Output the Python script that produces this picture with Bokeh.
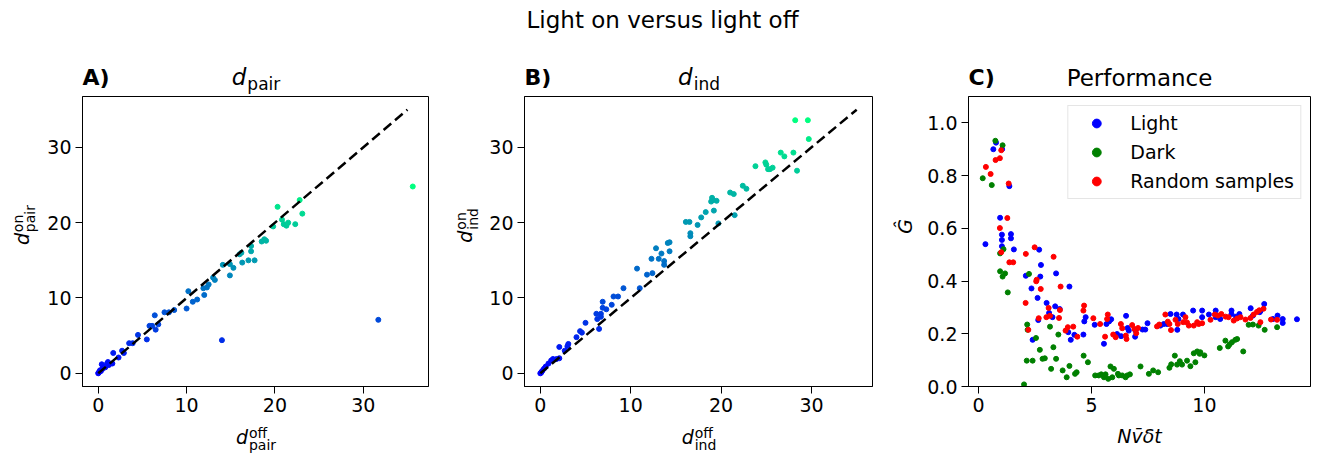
import math
from bokeh.plotting import figure
from bokeh.models import (Legend, LegendItem, FixedTicker, PrintfTickFormatter,
                          ColumnDataSource, Range1d)
from bokeh.layouts import row, column
from bokeh.transform import linear_cmap
from bokeh.core.properties import value
from bokeh.embed import file_html
from bokeh.resources import INLINE

# ---------------- data ----------------
A_off = [35.6, 31.7, 14.0, 20.3, 22.8, 23.1, 20.8, 21.0, 21.3, 21.5, 22.3, 19.8, 19.0, 18.5, 18.8,
         17.3, 17.3, 17.0, 17.7, 16.3, 16.0, 16.2, 14.9, 15.3, 14.1, 14.9, 13.2, 13.0, 12.5, 12.3,
         11.9, 12.0, 10.2, 11.2, 10.7, 10.0, 8.6, 8.0, 7.5, 6.8, 6.4, 5.8, 6.1, 6.5, 5.5, 4.5, 3.9,
         3.5, 2.7, 2.9, 1.7, 1.6, 2.3, 1.1, 0.6, 0.4, 0.2, 0.0, 0.05, 0.3, 0.8, 1.2, 0.15, 0.5, 1.0]
A_on = [24.8, 7.1, 4.4, 22.1, 23.0, 21.2, 20.4, 19.8, 19.6, 20.0, 19.8, 19.5, 17.6, 17.5, 17.8,
        16.9, 16.2, 15.0, 15.0, 14.7, 15.8, 16.0, 14.5, 14.0, 14.4, 13.0, 12.4, 12.7, 11.8, 11.4,
        11.3, 10.4, 10.9, 9.8, 9.5, 8.6, 8.4, 8.1, 8.1, 6.5, 7.7, 6.3, 6.3, 5.8, 4.5, 5.1, 4.0,
        4.0, 3.0, 2.7, 2.7, 1.3, 2.1, 1.5, 0.9, 1.2, 0.4, 0.0, 0.1, 0.3, 0.8, 1.1, 0.2, 0.6, 1.3]

B_off = [28.2, 29.6, 29.7, 26.6, 27.0, 28.0, 28.4, 23.8, 24.9, 25.0, 25.2, 25.7, 25.4, 22.4, 22.8,
         21.0, 21.4, 21.5, 19.0, 19.1, 19.5, 18.9, 19.2, 18.3, 17.8, 17.4, 19.7, 16.1, 16.5, 16.6,
         16.6, 14.1, 14.3, 14.3, 12.8, 13.4, 12.3, 13.1, 13.7, 13.7, 10.7, 11.8, 12.4, 11.0, 9.2,
         8.1, 8.6, 7.9, 6.9, 7.3, 6.9, 6.2, 6.7, 6.7, 6.3, 6.5, 5.0, 4.4, 4.6, 4.0, 3.1, 3.0, 2.7,
         2.1, 2.1, 1.8, 1.4, 1.2, 0.9, 0.6, 0.4, 0.2, 0.1, 0.0]
B_on = [33.6, 33.6, 31.1, 29.3, 28.8, 29.3, 26.9, 27.5, 28.0, 27.7, 27.1, 27.3, 27.1, 24.9, 24.5,
        24.0, 23.8, 21.0, 23.3, 23.0, 22.9, 22.8, 21.6, 21.4, 20.7, 19.7, 19.9, 20.1, 20.1, 18.6,
        18.2, 17.3, 17.4, 16.2, 16.6, 15.9, 15.2, 15.2, 14.9, 14.4, 13.9, 13.1, 13.3, 11.3, 11.3,
        10.2, 10.2, 9.1, 9.5, 8.5, 8.7, 7.9, 7.9, 7.5, 7.2, 5.9, 6.7, 5.6, 5.4, 4.8, 3.9, 3.6, 3.0,
        3.5, 2.0, 1.9, 1.9, 1.7, 1.3, 0.9, 0.6, 0.3, 0.1, 0.0]

diag_x = [0, 35]
diag_y = [0, 35]

light_x = [0.3, 0.65, 0.77, 1.04, 0.95, 1.03, 1.03, 1.03, 1.36, 1.43, 1.43, 1.56, 2.09, 2.34, 2.61,
           2.68, 2.76, 2.73, 2.39, 2.64, 3.01, 3.12, 3.43, 3.39, 3.27, 3.59, 4.02, 3.97, 4.08, 4.24,
           4.64, 4.74, 4.68, 5.14, 5.55, 5.66, 5.78, 5.87, 6.13, 6.31, 6.53, 6.6, 6.65, 6.93, 6.95,
           7.26, 7.38, 7.48, 8.05, 8.2, 8.35, 8.5, 8.8, 8.77, 9.05, 8.85, 9.5, 9.9, 9.9, 10.2, 10.5,
           10.5, 10.7, 11.2, 11.2, 11.4, 11.55, 12.05, 12.15, 12.45, 12.65, 12.48, 13.24, 13.47,
           13.47, 13.04, 14.1]
light_y = [0.54, 0.90, 0.925, 0.90, 0.64, 0.576, 0.556, 0.532, 0.76, 0.578, 0.562, 0.52, 0.42,
           0.372, 0.336, 0.519, 0.461, 0.417, 0.177, 0.252, 0.317, 0.279, 0.429, 0.304, 0.263,
           0.294, 0.379, 0.206, 0.177, 0.196, 0.197, 0.263, 0.247, 0.234, 0.162, 0.237, 0.247,
           0.255, 0.199, 0.191, 0.268, 0.222, 0.212, 0.189, 0.212, 0.216, 0.216, 0.240, 0.231,
           0.237, 0.237, 0.275, 0.215, 0.273, 0.273, 0.256, 0.288, 0.288, 0.263, 0.273, 0.288,
           0.263, 0.256, 0.288, 0.275, 0.265, 0.275, 0.297, 0.269, 0.282, 0.313, 0.286, 0.269,
           0.256, 0.241, 0.256, 0.255]

dark_x = [0.18, 0.58, 0.74, 1.06, 0.95, 1.1, 0.95, 1.06, 1.17, 1.29, 2.23, 2.01, 2.15, 2.17, 2.13,
          2.39, 2.54, 2.71, 2.83, 2.93, 3.16, 3.21, 3.31, 3.43, 3.53, 3.72, 3.9, 4.02, 4.27, 4.34,
          4.65, 4.84, 5.16, 5.32, 5.43, 5.55, 5.62, 5.84, 5.99, 5.74, 5.92, 6.17, 6.21, 6.36, 6.51,
          6.58, 6.7, 7.17, 7.54, 7.73, 7.95, 8.45, 8.53, 8.69, 8.79, 8.91, 9.01, 9.23, 9.38, 9.53,
          9.6, 9.68, 9.82, 9.79, 10.0, 10.68, 10.93, 11.05, 11.12, 11.22, 11.37, 11.45, 11.72,
          11.96, 12.15, 12.4, 12.67, 13.22]
dark_y = [0.79, 0.764, 0.932, 0.915, 0.505, 0.521, 0.437, 0.417, 0.429, 0.357, 0.427, 0.008, 0.235,
          0.215, 0.098, 0.098, 0.184, 0.139, 0.105, 0.107, 0.227, 0.067, 0.149, 0.105, 0.197,
          0.061, 0.035, 0.078, 0.048, 0.054, 0.117, 0.092, 0.042, 0.042, 0.046, 0.035, 0.046,
          0.076, 0.067, 0.029, 0.035, 0.048, 0.042, 0.042, 0.035, 0.042, 0.046, 0.076, 0.048,
          0.061, 0.054, 0.071, 0.084, 0.117, 0.083, 0.096, 0.083, 0.098, 0.077, 0.126, 0.092,
          0.133, 0.13, 0.124, 0.118, 0.146, 0.174, 0.152, 0.16, 0.168, 0.177, 0.18, 0.133, 0.234,
          0.235, 0.231, 0.215, 0.225]

random_x = [0.32, 0.53, 0.75, 0.94, 1.0, 0.94, 1.0, 1.27, 1.33, 1.36, 1.53, 2.09, 2.08, 2.2, 2.48,
            2.57, 2.55, 2.75, 2.66, 3.1, 3.0, 3.16, 3.32, 3.56, 3.63, 3.6, 3.85, 3.95, 4.19, 4.37,
            4.67, 4.64, 5.08, 5.38, 5.6, 5.72, 5.69, 5.96, 6.07, 6.3, 6.36, 6.55, 6.52, 6.8, 6.9,
            6.98, 7.06, 7.9, 8.0, 8.27, 8.38, 8.45, 8.52, 8.72, 8.82, 9.06, 9.16, 9.23, 9.31, 9.53,
            9.68, 9.75, 9.9, 10.27, 10.46, 10.6, 10.75, 10.94, 11.07, 11.3, 11.45, 11.6, 11.82,
            12.04, 12.18, 12.33, 12.43, 12.62, 12.48, 12.95, 13.22]
random_y = [0.833, 0.806, 0.859, 0.866, 0.896, 0.601, 0.509, 0.639, 0.770, 0.471, 0.471, 0.503,
            0.317, 0.215, 0.528, 0.405, 0.399, 0.370, 0.259, 0.298, 0.263, 0.268, 0.492, 0.260,
            0.379, 0.290, 0.212, 0.225, 0.227, 0.189, 0.307, 0.288, 0.259, 0.237, 0.189, 0.273,
            0.256, 0.197, 0.187, 0.237, 0.221, 0.18, 0.193, 0.233, 0.218, 0.202, 0.222, 0.228,
            0.235, 0.273, 0.246, 0.237, 0.214, 0.253, 0.237, 0.244, 0.263, 0.243, 0.231, 0.231,
            0.244, 0.237, 0.24, 0.253, 0.273, 0.269, 0.275, 0.265, 0.263, 0.25, 0.258, 0.263,
            0.254, 0.26, 0.273, 0.283, 0.289, 0.295, 0.244, 0.254, 0.253]

AB_ticks = [0, 10, 20, 30]
C_xticks = [0, 5, 10]
C_yticks = [0.0, 0.2, 0.4, 0.6, 0.8, 1.0]
legend_labels = ["Light", "Dark", "Random samples"]

# ---------------- style / layout ----------------
FONT = "DejaVu Sans"
W = 1319
TOP = 96          # frame top (page px)
FB = 386          # frame bottom (page px)
MID_BOT = 420     # bottom of the plot row (page px)
H = 453
BASE_K = 0.35     # correction: bokeh places "alphabetic" text lower than the true baseline
WINTER = ["#%02x%02x%02x" % (0, i, int(round(255 - i / 2))) for i in range(256)]

CW = {"d": 0.635, "p": 0.635, "a": 0.613, "i": 0.278, "r": 0.411, "n": 0.634, "o": 0.612,
      "f": 0.352}


def tw(s, size):
    return sum(CW.get(c, 0.6) for c in s) * size


def text_fig(x0, x1, y0, y1):
    """A plain figure whose frame is its whole canvas, in page pixel coordinates."""
    p = figure(width=x1 - x0, height=y1 - y0, output_backend="svg", toolbar_location=None,
               title=None, x_axis_type=None, y_axis_type=None,
               x_range=Range1d(x0, x1), y_range=Range1d(y1, y0),
               min_border=0, min_border_left=0, min_border_right=0,
               min_border_top=0, min_border_bottom=0)
    p.outline_line_color = None
    p.background_fill_color = "white"
    p.border_fill_color = "white"
    return p


def txt(p, X, Y, s, size, style="normal", align="left", angle=0.0):
    if angle:
        X = X - BASE_K * size
    else:
        Y = Y - BASE_K * size
    p.text(x=[X], y=[Y], text=[s], text_font=value(FONT), text_font_size=value(f"{size}px"),
           text_font_style=style, text_align=align, text_baseline="alphabetic",
           text_color="black", angle=angle)


def hmath(p, cx, by, sub, sup, size, ssize, drop, rise):
    wd = 0.635 * size
    ws = max(tw(sub, ssize), tw(sup, ssize) if sup else 0)
    split = cx - (wd + ws) / 2 + wd
    txt(p, split, by, "d", size, "italic", "right")
    txt(p, split + 1, by + drop, sub, ssize)
    if sup:
        txt(p, split + 1, by - rise, sup, ssize)


def vmath(p, xb, cy, sub, sup, size, ssize, drop, rise):
    wd = 0.635 * size
    ws = max(tw(sub, ssize), tw(sup, ssize))
    split = cy + (wd + ws) / 2 - wd
    a = math.pi / 2
    txt(p, xb, split, "d", size, "italic", "right", a)
    txt(p, xb + drop, split - 1, sub, ssize, angle=a)
    txt(p, xb - rise, split - 1, sup, ssize, angle=a)


def plot_fig(x0, x1, fl, fr, xr, yr, xt, yt):
    p = figure(width=x1 - x0, height=MID_BOT - TOP, output_backend="svg", toolbar_location=None,
               title=None, x_range=Range1d(*xr), y_range=Range1d(*yr),
               min_border_left=fl - x0, min_border_right=x1 - fr,
               min_border_top=0, min_border_bottom=MID_BOT - FB)
    p.background_fill_color = "white"
    p.border_fill_color = "white"
    p.outline_line_color = "black"
    p.outline_line_width = 1
    p.grid.visible = False
    p.xaxis.ticker = FixedTicker(ticks=xt)
    p.yaxis.ticker = FixedTicker(ticks=yt)
    for ax in (p.xaxis[0], p.yaxis[0]):
        ax.axis_line_color = "black"
        ax.major_tick_line_color = "black"
        ax.major_tick_out = 7
        ax.major_tick_in = 0
        ax.minor_tick_line_color = None
        ax.major_label_text_font = FONT
        ax.major_label_text_font_size = "19px"
        ax.major_label_text_color = "black"
    p.xaxis.major_label_standoff = 4
    p.yaxis.major_label_standoff = 4
    return p


# ---------------- panel A ----------------
pA = plot_fig(40, 440, 82, 428, (-1.78, 37.38), (-1.75, 36.75), AB_ticks, AB_ticks)
srcA = ColumnDataSource(dict(x=A_off, y=A_on))
cmA = linear_cmap("y", WINTER, 0, max(A_on))
pA.scatter("x", "y", source=srcA, size=5, fill_color=cmA, line_color=cmA)
pA.line(diag_x, diag_y, line_color="black", line_width=2.5, line_dash="10 5")

# ---------------- panel B ----------------
pB = plot_fig(480, 880, 524, 872, (-1.75, 36.75), (-1.75, 36.75), AB_ticks, AB_ticks)
srcB = ColumnDataSource(dict(x=B_off, y=B_on))
cmB = linear_cmap("y", WINTER, 0, max(B_on))
pB.scatter("x", "y", source=srcB, size=5, fill_color=cmB, line_color=cmB)
pB.line(diag_x, diag_y, line_color="black", line_width=2.5, line_dash="10 5")

# ---------------- panel C ----------------
pC = plot_fig(920, 1319, 968, 1310, (-0.45, 14.7), (0.0, 1.1), C_xticks, C_yticks)
pC.yaxis.formatter = PrintfTickFormatter(format="%.1f")
r1 = pC.scatter(light_x, light_y, size=5, fill_color="#0000ff", line_color="#0000ff")
r2 = pC.scatter(dark_x, dark_y, size=5, fill_color="#008000", line_color="#008000")
r3 = pC.scatter(random_x, random_y, size=5, fill_color="#ff0000", line_color="#ff0000")
legend = Legend(items=[LegendItem(label=legend_labels[0], renderers=[r1]),
                       LegendItem(label=legend_labels[1], renderers=[r2]),
                       LegendItem(label=legend_labels[2], renderers=[r3])],
                location="top_right", label_text_font=FONT, label_text_font_size="19px",
                label_text_color="black",
                glyph_width=44, glyph_height=22, label_height=22, label_standoff=12,
                padding=6, spacing=7, margin=9, border_line_color="#cccccc",
                border_line_width=1, background_fill_alpha=0.8)
pC.add_layout(legend)

# ---------------- texts ----------------
top = text_fig(0, W, 0, TOP)
txt(top, 662, 28, "Light on versus light off", 23, align="center")
txt(top, 82, 85, "A)", 22, "bold")
txt(top, 524, 85, "B)", 22, "bold")
txt(top, 968, 85, "C)", 22, "bold")
hmath(top, 255, 85, "pair", None, 23, 17, 4, 0)
hmath(top, 698, 85, "ind", None, 23, 17, 4, 0)
txt(top, 1139, 86, "Performance", 23, align="center")

bottom = text_fig(0, W, MID_BOT, H)
hmath(bottom, 255, 443, "pair", "off", 19, 14, 6, 6)
hmath(bottom, 698, 443, "ind", "off", 19, 14, 6, 6)
txt(bottom, 1139, 442, "N\u0076\u0304\u03b4t", 19, "italic", "center")

lA = text_fig(0, 40, TOP, MID_BOT)
vmath(lA, 28, 241, "pair", "on", 19, 14, 6, 6)
lB = text_fig(440, 480, TOP, MID_BOT)
vmath(lB, 471, 241, "ind", "on", 19, 14, 6, 6)
lC = text_fig(880, 920, TOP, MID_BOT)
txt(lC, 911, 241, "\u011c", 19, "italic", "center", math.pi / 2)

layout = column(top, row(lA, pA, lB, pB, lC, pC), bottom)
open("out.html", "w").write(file_html(layout, INLINE))
